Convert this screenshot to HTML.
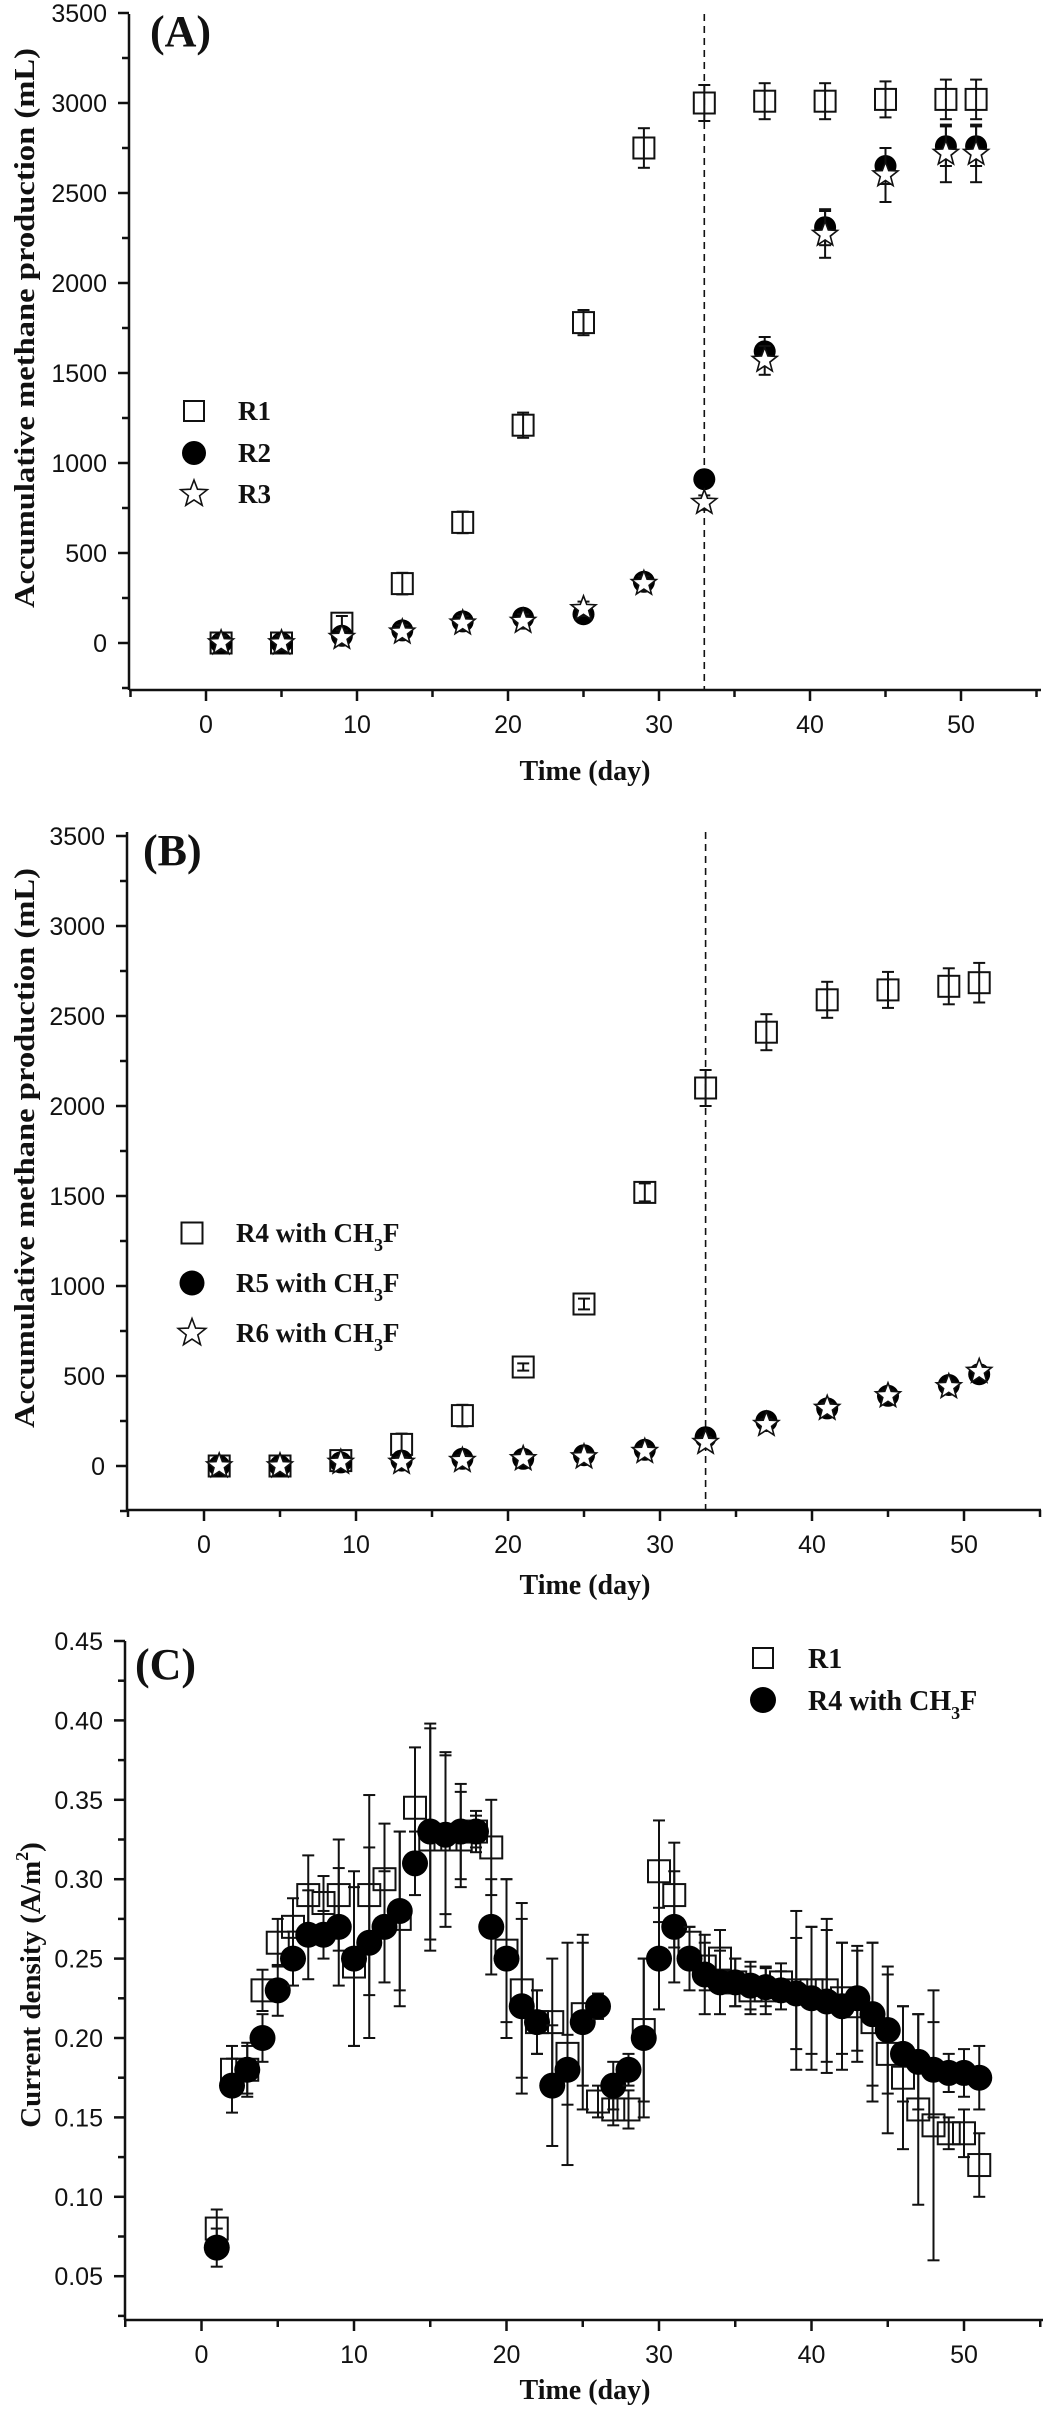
<!DOCTYPE html>
<html><head><meta charset="utf-8">
<style>
html,body{margin:0;padding:0;background:#fff;}
svg{display:block;}
.tick{font-family:"Liberation Sans",Arial,sans-serif;font-size:25px;fill:#111;}
.ttl{font-family:"Liberation Serif","Times New Roman",serif;font-weight:bold;fill:#111;}
</style></head>
<body>
<svg id="fig" xmlns="http://www.w3.org/2000/svg" width="1050" height="2409" viewBox="0 0 1050 2409">
<g id="pA"></g>
<g id="pB"></g>
<g id="pC"></g>
</svg>
<script>
// ---- Panel A data ----
const daysAB = [1,5,9,13,17,21,25,29,33,37,41,45,49,51];
const r1 = [0,0,110,330,670,1210,1780,2750,3000,3010,3010,3020,3020,3020];
const r1Err = [40,40,40,60,60,70,70,110,100,100,100,100,110,110];
const r2 = [0,0,40,70,120,140,160,340,910,1620,2310,2650,2760,2760];
const r2Err = [40,40,40,40,40,40,40,40,40,80,100,100,110,110];
const r3 = [0,0,30,60,110,120,190,330,780,1570,2270,2600,2720,2720];
const r3Err = [40,40,40,40,40,40,40,40,40,80,130,150,160,160];
// ---- Panel B data ----
const r4 = [0,0,30,120,280,550,900,1520,2100,2410,2590,2645,2665,2685];
const r4Err = [30,30,30,60,60,20,30,50,100,100,100,100,100,110];
const r5 = [0,0,20,30,40,40,60,90,160,250,320,390,450,510];
const r6 = [0,0,20,20,30,40,50,80,130,230,320,390,440,525];
const smallErr = [30,30,30,30,30,30,30,30,30,30,30,30,30,30];
const ticksAB = [0,500,1000,1500,2000,2500,3000,3500];
const xTicks = [0,10,20,30,40,50];
// ---- Panel C data ----
const daysC = [];
for (let d = 1; d <= 51; d++) daysC.push(d);
const c1 = [0.08,0.18,0.18,0.23,0.26,0.27,0.29,0.285,0.29,0.245,0.29,0.30,0.275,0.345,0.325,0.325,0.325,0.33,0.32,0.255,0.23,0.21,0.21,0.19,0.215,0.16,0.155,0.155,0.205,0.305,0.29,0.26,0.245,0.25,0.235,0.23,0.23,0.235,0.23,0.23,0.23,0.225,0.22,0.21,0.19,0.175,0.155,0.145,0.14,0.14,0.12];
const c1Err = [0.012,0.015,0.015,0.013,0.015,0.018,0.025,0.017,0.035,0.05,0.063,0.035,0.055,0.038,0.07,0.055,0.03,0.013,0.03,0.045,0.055,0.02,0.04,0.07,0.045,0.01,0.01,0.012,0.045,0.032,0.033,0.01,0.015,0.018,0.015,0.015,0.015,0.012,0.05,0.04,0.045,0.035,0.035,0.05,0.05,0.045,0.06,0.085,0.01,0.015,0.02];
const c4 = [0.068,0.17,0.18,0.20,0.23,0.25,0.265,0.265,0.27,0.25,0.26,0.27,0.28,0.31,0.33,0.328,0.33,0.33,0.27,0.25,0.22,0.21,0.17,0.18,0.21,0.22,0.17,0.18,0.20,0.25,0.27,0.25,0.24,0.235,0.235,0.233,0.232,0.23,0.228,0.225,0.223,0.22,0.225,0.215,0.205,0.19,0.185,0.18,0.178,0.178,0.175];
const c4Err = [0.012,0.017,0.017,0.015,0.016,0.017,0.028,0.015,0.037,0.055,0.06,0.035,0.05,0.02,0.068,0.05,0.03,0.01,0.03,0.05,0.055,0.02,0.038,0.022,0.055,0.008,0.015,0.01,0.05,0.032,0.035,0.02,0.025,0.02,0.015,0.015,0.012,0.012,0.035,0.045,0.045,0.04,0.033,0.045,0.04,0.03,0.03,0.03,0.012,0.015,0.02];
const ticksC = [0.05,0.10,0.15,0.20,0.25,0.30,0.35,0.40,0.45];

const NS = "http://www.w3.org/2000/svg";
function mk(parent, tag, attrs) {
  const e = document.createElementNS(NS, tag);
  for (const k in attrs) e.setAttribute(k, attrs[k]);
  parent.appendChild(e);
  return e;
}
function txt(parent, x, y, s, cls, extra) {
  const t = mk(parent, 'text', Object.assign({x: x, y: y, class: cls}, extra || {}));
  t.textContent = s;
  return t;
}
function starPath(cx, cy, R) {
  const r = R * 0.42; let d = '';
  for (let i = 0; i < 10; i++) {
    const a = -Math.PI / 2 + i * Math.PI / 5;
    const rr = i % 2 ? r : R;
    d += (i ? 'L' : 'M') + (cx + rr * Math.cos(a)).toFixed(1) + ' ' + (cy + rr * Math.sin(a)).toFixed(1);
  }
  return d + 'Z';
}
function marker(g, type, cx, cy, s) {
  let m;
  if (type === 'sq') m = mk(g, 'rect', {x: cx - s/2, y: cy - s/2, width: s, height: s, fill: 'none', stroke: '#111', 'stroke-width': 2});
  else if (type === 'ci') m = mk(g, 'circle', {cx: cx, cy: cy, r: s/2, fill: '#000'});
  else m = mk(g, 'path', {d: starPath(cx, cy, s/2 + 2), fill: '#fff', stroke: '#111', 'stroke-width': 1.6});
  return m;
}
function errbar(g, cx, y1, y2, cap) {
  mk(g, 'line', {x1: cx, x2: cx, y1: y1, y2: y2, stroke: '#111', 'stroke-width': 2});
  mk(g, 'line', {x1: cx - cap, x2: cx + cap, y1: y1, y2: y1, stroke: '#111', 'stroke-width': 2});
  mk(g, 'line', {x1: cx - cap, x2: cx + cap, y1: y2, y2: y2, stroke: '#111', 'stroke-width': 2});
}

function axes(g, P, yTicks, yFmt, minorStep) {
  const X = P.X, Y = P.Y;
  const ax = mk(g, 'g', {});
  
  
  mk(ax, 'line', {x1: P.left, x2: P.left, y1: P.top, y2: P.bottom, stroke: '#111', 'stroke-width': 2.5});
  mk(ax, 'line', {x1: P.left, x2: P.right, y1: P.bottom, y2: P.bottom, stroke: '#111', 'stroke-width': 2.5});
  for (let v = -5; v <= 55; v += 5) {
    const x = X(v);
    const major = (v % 10 === 0);
    mk(ax, 'line', {x1: x, x2: x, y1: P.bottom, y2: P.bottom + (major ? 11 : 7), stroke: '#111', 'stroke-width': 2.5});
  }
  xTicks.forEach(v => {
    const t = txt(ax, X(v), P.bottom + 43, String(v), 'tick', {'text-anchor': 'middle'});
    
    
  });
  const y0 = P.ymin, y1 = P.ymax;
  for (let v = yTicks[0] - minorStep * Math.floor((yTicks[0] - y0) / minorStep); v <= y1 + 1e-9; v += minorStep) {
    const y = Y(v);
    const major = yTicks.some(t => Math.abs(t - v) < 1e-9);
    mk(ax, 'line', {x1: P.left - (major ? 11 : 7), x2: P.left, y1: y, y2: y, stroke: '#111', 'stroke-width': 2.5});
  }
  yTicks.forEach(v => {
    const t = txt(ax, P.left - 22, Y(v) + 9, yFmt(v), 'tick', {'text-anchor': 'end'});
    
    
  });
}

function panel(id, P) {
  P.X = v => P.x0 + (v - 0) * P.pxDay;
  P.Y = v => P.yBase - (v - P.yRef) * P.pxUnit;
  return P;
}

// ---------- Panel A ----------
(function () {
  const g = document.getElementById('pA');
  const P = panel('A', {left: 129, right: 1041, top: 14, bottom: 690, x0: 206, pxDay: 15.1, yBase: 643, yRef: 0, pxUnit: 90 / 500, ymin: -250, ymax: 3500});
  axes(g, P, ticksAB, v => String(v), 250);
  const dl = mk(g, 'line', {x1: P.X(33), x2: P.X(33), y1: P.top, y2: P.bottom, stroke: '#111', 'stroke-width': 1.6, 'stroke-dasharray': '7,5'});
  
  
  const series = [[r1, r1Err, 'sq', 'series-r1'], [r2, r2Err, 'ci', 'series-r2'], [r3, r3Err, 'st', 'series-r3']];
  series.forEach(([vals, errs, type, name]) => {
    const sg = mk(g, 'g', {});
    
    
    vals.forEach((v, i) => {
      const cx = P.X(daysAB[i]);
      errbar(sg, cx, P.Y(v + errs[i]), P.Y(v - errs[i]), 6);
      const m = marker(sg, type, cx, P.Y(v), type === 'sq' ? 21 : 22);
      
      
    });
  });
  const lg = mk(g, 'g', {});
  
  
  [['sq', 'R1', 411], ['ci', 'R2', 453], ['st', 'R3', 494]].forEach(([t, s, y]) => {
    marker(lg, t, 194, y, t === 'sq' ? 20 : 24);
    const e = txt(lg, 238, y + 9, s, 'ttl', {'font-size': 27});
    
    
  });
  const pl = txt(g, 150, 46, '(A)', 'ttl', {'font-size': 44});
  
  
  const xt = txt(g, 585, 780, 'Time (day)', 'ttl', {'font-size': 28, 'text-anchor': 'middle'});
  
  
  const yt = txt(g, 0, 0, 'Accumulative methane production (mL)', 'ttl', {'font-size': 29, 'text-anchor': 'middle', transform: 'translate(34,328) rotate(-90)', textLength: 560, lengthAdjust: 'spacingAndGlyphs'});
  
  
})();

// ---------- Panel B ----------
(function () {
  const g = document.getElementById('pB');
  const P = panel('B', {left: 127, right: 1041, top: 832, bottom: 1510, x0: 204, pxDay: 15.2, yBase: 1466, yRef: 0, pxUnit: 90 / 500, ymin: -250, ymax: 3500});
  axes(g, P, ticksAB, v => String(v), 250);
  const dl = mk(g, 'line', {x1: P.X(33), x2: P.X(33), y1: P.top, y2: P.bottom, stroke: '#111', 'stroke-width': 1.6, 'stroke-dasharray': '7,5'});
  
  
  const series = [[r4, r4Err, 'sq', 'series-r4'], [r5, smallErr, 'ci', 'series-r5'], [r6, smallErr, 'st', 'series-r6']];
  series.forEach(([vals, errs, type, name]) => {
    const sg = mk(g, 'g', {});
    
    
    vals.forEach((v, i) => {
      const cx = P.X(daysAB[i]);
      errbar(sg, cx, P.Y(v + errs[i]), P.Y(v - errs[i]), 6);
      const m = marker(sg, type, cx, P.Y(v), type === 'sq' ? 21 : 22);
      
      
    });
  });
  const lg = mk(g, 'g', {});
  
  
  [['sq', 'R4', 1233], ['ci', 'R5', 1283], ['st', 'R6', 1333]].forEach(([t, s, y]) => {
    marker(lg, t, 192, y, t === 'sq' ? 21 : 25);
    const e = txt(lg, 236, y + 9, '', 'ttl', {'font-size': 27});
    
    
    e.innerHTML = s + ' with CH<tspan font-size="18" dy="9">3</tspan><tspan dy="-9">F</tspan>';
  });
  const pl = txt(g, 143, 865, '(B)', 'ttl', {'font-size': 44});
  
  
  const xt = txt(g, 585, 1594, 'Time (day)', 'ttl', {'font-size': 28, 'text-anchor': 'middle'});
  
  
  const yt = txt(g, 0, 0, 'Accumulative methane production (mL)', 'ttl', {'font-size': 29, 'text-anchor': 'middle', transform: 'translate(34,1148) rotate(-90)', textLength: 560, lengthAdjust: 'spacingAndGlyphs'});
  
  
})();

// ---------- Panel C ----------
(function () {
  const g = document.getElementById('pC');
  const P = panel('C', {left: 125, right: 1043, top: 1641, bottom: 2320, x0: 201.5, pxDay: 15.25, yBase: 1641, yRef: 0.45, pxUnit: 79.4 / 0.05, ymin: 0.0225, ymax: 0.45});
  axes(g, P, ticksC, v => v.toFixed(2), 0.025);
  const series = [[c1, c1Err, 'sq', 'series-r1'], [c4, c4Err, 'ci', 'series-r4']];
  series.forEach(([vals, errs, type, name]) => {
    const sg = mk(g, 'g', {});
    
    
    vals.forEach((v, i) => {
      const cx = P.X(daysC[i]);
      errbar(sg, cx, P.Y(v + errs[i]), P.Y(v - errs[i]), 6);
      const m = marker(sg, type, cx, P.Y(v), type === 'sq' ? 22 : 26);
      
      
    });
  });
  const lg = mk(g, 'g', {});
  
  
  marker(lg, 'sq', 763, 1658, 20);
  marker(lg, 'ci', 763, 1700, 26);
  const e1 = txt(lg, 808, 1668, 'R1', 'ttl', {'font-size': 28});
  
  
  const e2 = txt(lg, 808, 1710, '', 'ttl', {'font-size': 28});
  
  
  e2.innerHTML = 'R4 with CH<tspan font-size="18" dy="9">3</tspan><tspan dy="-9">F</tspan>';
  const pl = txt(g, 135, 1679, '(C)', 'ttl', {'font-size': 44});
  
  
  const xt = txt(g, 585, 2399, 'Time (day)', 'ttl', {'font-size': 28, 'text-anchor': 'middle'});
  
  
  const yt = txt(g, 0, 0, '', 'ttl', {'font-size': 29, 'text-anchor': 'middle', transform: 'translate(40,1985) rotate(-90)'});
  
  
  yt.innerHTML = 'Current density (A/m<tspan font-size="18" dy="-12">2</tspan><tspan dy="12">)</tspan>';
})();
</script>
</body></html>
